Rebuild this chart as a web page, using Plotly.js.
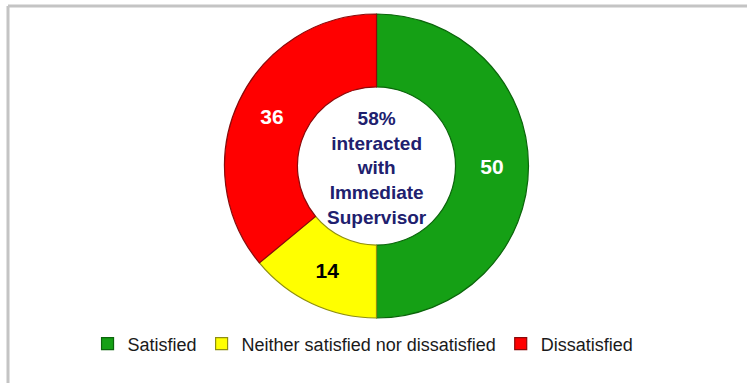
<!DOCTYPE html>
<html>
<head>
<meta charset="utf-8">
<script src="https://cdn.plot.ly/plotly-3.0.1.min.js"></script>
<style>
  html, body { margin: 0; padding: 0; background: #ffffff; }
  #chart { width: 747px; height: 383px; }
</style>
</head>
<body>
<div id="chart"></div>
<script>
// ---- data ----
const categories = ["Satisfied", "Neither satisfied nor dissatisfied", "Dissatisfied"];
const values = [50, 14, 36];
const sliceColors = ["#15a015", "#ffff00", "#ff0000"];
const sliceEdgeColors = ["#0b650b", "#8f8f10", "#8a0a0a"];
const labelColors = ["#ffffff", "#000000", "#ffffff"];
const centerLines = ["58%", "interacted", "with", "Immediate", "Supervisor"];

const W = 747, H = 383;
const cx = 376.5, cy = 166, R = 152;

const trace = {
  type: "pie",
  labels: categories,
  values: values,
  sort: false,
  direction: "clockwise",
  rotation: 0,
  hole: 0.52,
  textinfo: "value",
  textposition: "inside",
  insidetextorientation: "horizontal",
  insidetextfont: { family: "Liberation Sans, Arial, sans-serif", size: 21, color: labelColors, weight: "bold" },
  marker: { colors: sliceColors, line: { color: sliceEdgeColors, width: 1.2 } },
  domain: {
    x: [(cx - 200) / W, (cx + 200) / W],
    y: [1 - (cy + R) / H, 1 - (cy - R) / H]
  },
  hoverinfo: "label+value"
};

const layout = {
  width: W, height: H,
  margin: { l: 0, r: 0, t: 0, b: 0 },
  paper_bgcolor: "#ffffff",
  showlegend: true,
  legend: {
    orientation: "h",
    x: 0.486, xanchor: "center",
    y: 1 - 344 / H, yanchor: "middle",
    font: { family: "Liberation Sans, Arial, sans-serif", size: 18, color: "#1a1a1a" },
    itemwidth: 30,
    traceorder: "normal"
  },
  annotations: [{
    text: "<b>" + centerLines.join("<br>") + "</b>",
    x: cx / W, y: 1 - (cy + 1.5) / H,
    xref: "paper", yref: "paper",
    showarrow: false,
    font: { family: "Liberation Sans, Arial, sans-serif", size: 19, color: "#20206e" },
    align: "center"
  }],
  shapes: [
    { type: "line", xref: "paper", yref: "paper", x0: 8 / W, y0: 1 - 6 / H, x1: 1, y1: 1 - 6 / H,
      line: { color: "#c4c4c4", width: 3 } },
    { type: "line", xref: "paper", yref: "paper", x0: 8 / W, y0: 1 - 6 / H, x1: 8 / W, y1: 0,
      line: { color: "#c4c4c4", width: 3 } }
  ]
};

Plotly.newPlot("chart", [trace], layout, { displayModeBar: false, staticPlot: true });
</script>
</body>
</html>
